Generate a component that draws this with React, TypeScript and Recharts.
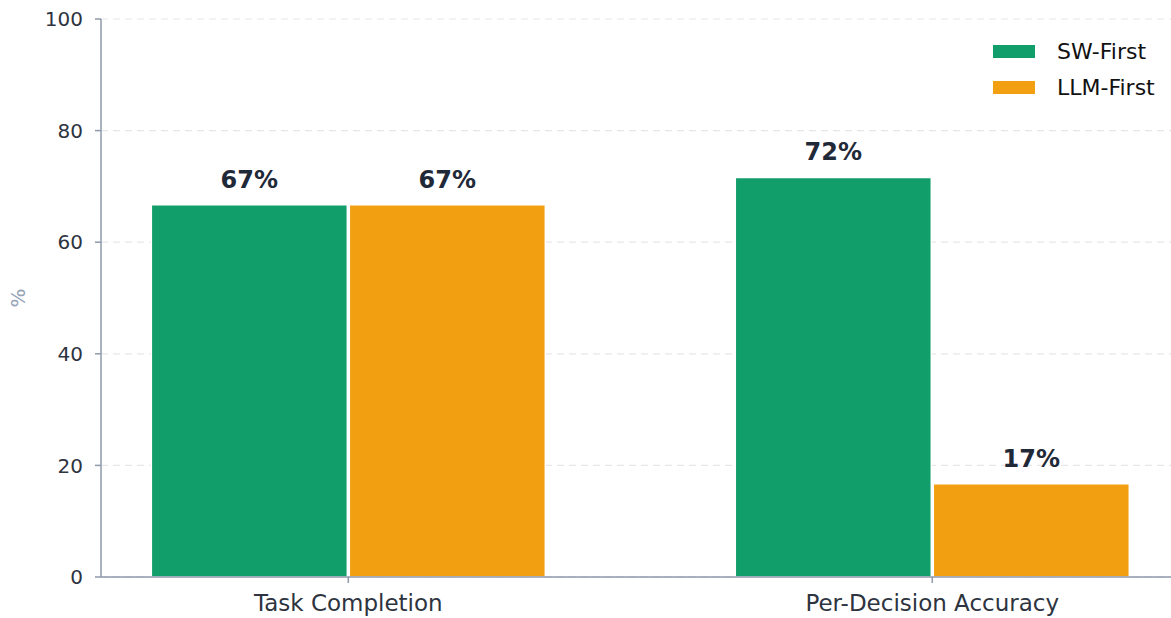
import React from "react";
import { BarChart, Bar, XAxis, YAxis, CartesianGrid, LabelList, Legend, Label } from "recharts";

const categories = ["Task Completion", "Per-Decision Accuracy"];
const swFirst = [66.7, 71.6];
const llmFirst = [66.7, 16.7];
const yTicks = [0, 20, 40, 60, 80, 100];
const seriesNames = ["SW-First", "LLM-First"];
const seriesColors = ["#129E6B", "#F39F12"];

const data = categories.map((name, i) => ({ x: i, name, sw: swFirst[i], llm: llmFirst[i] }));

const FONT = "'DejaVu Sans', sans-serif";

const renderLegend = (props: any) => {
  const payload = [...(props.payload || [])].sort(
    (a: any, b: any) => seriesNames.indexOf(a.value) - seriesNames.indexOf(b.value)
  );
  return (
    <div style={{ fontFamily: FONT }}>
      {payload.map((p: any, i: number) => (
        <div key={i} style={{ display: "flex", alignItems: "center", height: 36 }}>
          <div style={{ width: 42, height: 13, background: p.color, marginRight: 22 }} />
          <span style={{ fontSize: 22, color: "#111111" }}>{p.value}</span>
        </div>
      ))}
    </div>
  );
};

export default function App() {
  return (
    <div style={{ position: "absolute", left: 0, top: 0, width: 1171, height: 618, background: "#fff" }}>
      <BarChart
        width={1171}
        height={618}
        data={data}
        margin={{ top: 19, right: 0, bottom: 0, left: 0 }}
        barGap={2}
      >
        <CartesianGrid horizontal vertical={false} stroke="#e5e7eb" strokeDasharray="7 5" strokeWidth={1.2} />
        <XAxis
          dataKey="x"
          type="number"
          domain={[-0.4235, 1.4088]}
          allowDataOverflow
          ticks={[0, 1]}
          tickFormatter={(v: number) => categories[v] ?? ""}
          height={41}
          tickSize={6}
          tickMargin={12}
          stroke="#8e99ab"
          strokeWidth={1.5}
          tick={{ fill: "#2d3440", fontSize: 23, fontFamily: FONT }}
        />
        <YAxis
          domain={[0, 100]}
          ticks={yTicks}
          width={101}
          tickSize={6}
          tickMargin={12}
          stroke="#8e99ab"
          strokeWidth={1.5}
          tick={{ fill: "#2d3440", fontSize: 20, fontFamily: FONT }}
        >
          <Label
            value="%"
            angle={-90}
            position="insideLeft"
            offset={18}
            style={{ textAnchor: "middle", fill: "#94a3b8", fontSize: 20, fontFamily: FONT }}
          />
        </YAxis>
        <Legend
          layout="vertical"
          align="center"
          verticalAlign="middle"
          content={renderLegend}
          wrapperStyle={{ top: 33, left: 993, width: 178, height: 72 }}
        />
        <Bar dataKey="sw" name={seriesNames[0]} fill={seriesColors[0]} stroke="#ffffff" strokeWidth={1.5} barSize={196} isAnimationActive={false}>
          <LabelList
            dataKey="sw"
            position="top"
            offset={17}
            formatter={(v: any) => `${Math.round(v)}%`}
            style={{ fill: "#1f2937", fontSize: 24, fontWeight: "bold", fontFamily: FONT }}
          />
        </Bar>
        <Bar dataKey="llm" name={seriesNames[1]} fill={seriesColors[1]} stroke="#ffffff" strokeWidth={1.5} barSize={196} isAnimationActive={false}>
          <LabelList
            dataKey="llm"
            position="top"
            offset={17}
            formatter={(v: any) => `${Math.round(v)}%`}
            style={{ fill: "#1f2937", fontSize: 24, fontWeight: "bold", fontFamily: FONT }}
          />
        </Bar>
      </BarChart>
    </div>
  );
}
